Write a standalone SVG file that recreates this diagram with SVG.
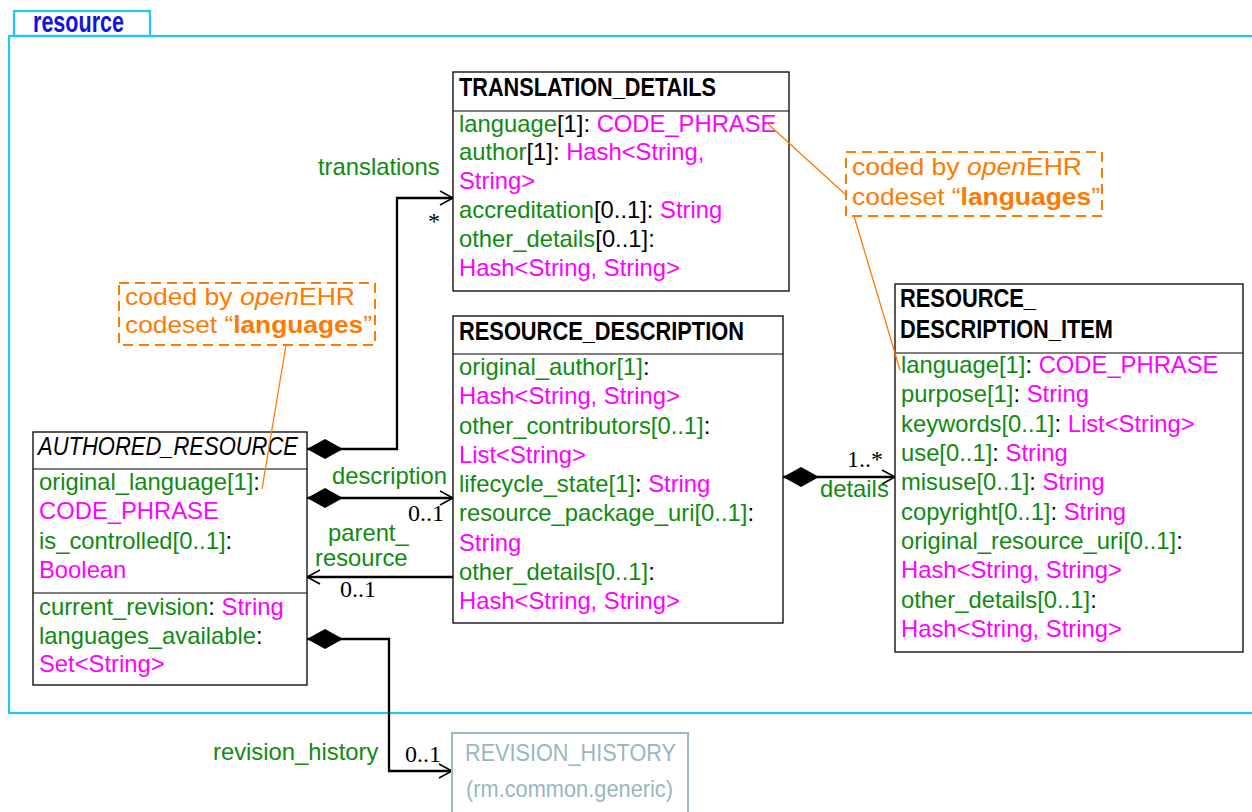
<svg xmlns="http://www.w3.org/2000/svg" width="1252" height="812" viewBox="0 0 1252 812">
<style>
text{font-family:"Liberation Sans",Arial,sans-serif;font-size:23.8px;fill:#000}
.g{fill:#108a10}
.m{fill:#ff00ff}
.t{font-size:25.5px;font-weight:bold}
.it{font-size:26px;font-style:italic}
.mul{font-family:"Liberation Serif","Times New Roman",serif;font-size:24px}
.box{fill:#fff;stroke:#000;stroke-width:1.3}
.div{stroke:#000;stroke-width:1.2}
.note{fill:none;stroke:#ff7a00;stroke-width:2;stroke-dasharray:10 6}
.nt{fill:#ff7a00}
.ol{stroke:#ff7a00;stroke-width:1.3;fill:none}
.con{fill:none;stroke:#000;stroke-width:2.3}
.pkg{fill:none;stroke:#1ec8f2;stroke-width:2.2}
.gray{fill:#99b6bf}
</style>
<defs>
<marker id="dia" markerUnits="userSpaceOnUse" viewBox="0 -11 37 22" markerWidth="37" markerHeight="22" refX="0" refY="0" orient="auto">
<path d="M0,0 L18,-10 L36,0 L18,10 Z" fill="#000"/>
</marker>
<marker id="arr" markerUnits="userSpaceOnUse" viewBox="-15 -9 17 18" markerWidth="17" markerHeight="18" refX="0" refY="0" orient="auto">
<path d="M-13,-7 L0,0 L-13,7" fill="none" stroke="#000" stroke-width="1.5"/>
</marker>
</defs>

<g id="package">
<rect class="pkg" x="14" y="11" width="136" height="25"/>
<rect class="pkg" x="9" y="36" width="1260" height="677"/>
<text x="33" y="32" style="font-weight:bold;font-size:30px;fill:#1212e6" textLength="91" lengthAdjust="spacingAndGlyphs">resource</text>
</g>

<g id="connectors">
<path class="con" d="M307,449 H397 V198 H453" marker-start="url(#dia)" marker-end="url(#arr)"/>
<path class="con" d="M307,498 H453" marker-start="url(#dia)" marker-end="url(#arr)"/>
<path class="con" d="M453,577 H307" marker-end="url(#arr)"/>
<path class="con" d="M783,477 H895" marker-start="url(#dia)" marker-end="url(#arr)"/>
<path class="con" d="M307,639 H389 V771 H452" marker-start="url(#dia)" marker-end="url(#arr)"/>
<text class="g" x="318" y="175">translations</text>
<text class="mul" x="440" y="229" text-anchor="end">*</text>
<text class="g" x="332" y="484">description</text>
<text class="mul" x="408" y="521">0..1</text>
<text class="g" x="328" y="541">parent_</text>
<text class="g" x="315" y="566">resource</text>
<text class="mul" x="340" y="597">0..1</text>
<text class="mul" x="847" y="467">1..*</text>
<text class="g" x="820" y="497">details</text>
<text class="g" x="213" y="760">revision_history</text>
<text class="mul" x="405" y="762">0..1</text>
</g>

<g id="TRANSLATION_DETAILS">
<rect class="box" x="453" y="72" width="336" height="219"/>
<line class="div" x1="453" y1="111" x2="789" y2="111"/>
<text class="t" x="459" y="96" textLength="257" lengthAdjust="spacingAndGlyphs">TRANSLATION_DETAILS</text>
<text x="459" y="131.5"><tspan class="g">language</tspan>[1]: <tspan class="m">CODE_PHRASE</tspan></text>
<text x="459" y="160.4"><tspan class="g">author</tspan>[1]: <tspan class="m">Hash&lt;String,</tspan></text>
<text x="459" y="189.3" class="m">String&gt;</text>
<text x="459" y="218.2"><tspan class="g">accreditation</tspan>[0..1]: <tspan class="m">String</tspan></text>
<text x="459" y="247.1"><tspan class="g">other_details</tspan>[0..1]:</text>
<text x="459" y="276" class="m">Hash&lt;String, String&gt;</text>
</g>

<g id="RESOURCE_DESCRIPTION">
<rect class="box" x="453" y="316" width="330" height="307"/>
<line class="div" x1="453" y1="354" x2="783" y2="354"/>
<text class="t" x="459" y="340" textLength="285" lengthAdjust="spacingAndGlyphs">RESOURCE_DESCRIPTION</text>
<text x="459" y="375"><tspan class="g">original_author[1]</tspan>:</text>
<text x="459" y="404.3" class="m">Hash&lt;String, String&gt;</text>
<text x="459" y="433.5"><tspan class="g">other_contributors[0..1]</tspan>:</text>
<text x="459" y="462.8" class="m">List&lt;String&gt;</text>
<text x="459" y="492"><tspan class="g">lifecycle_state[1]</tspan>: <tspan class="m">String</tspan></text>
<text x="459" y="521.3"><tspan class="g">resource_package_uri[0..1]</tspan>:</text>
<text x="459" y="550.5" class="m">String</text>
<text x="459" y="579.8"><tspan class="g">other_details[0..1]</tspan>:</text>
<text x="459" y="609" class="m">Hash&lt;String, String&gt;</text>
</g>

<g id="AUTHORED_RESOURCE">
<rect class="box" x="33" y="432" width="274" height="253"/>
<line class="div" x1="33" y1="469" x2="307" y2="469"/>
<line class="div" x1="33" y1="593" x2="307" y2="593"/>
<text class="it" x="38" y="455" textLength="260" lengthAdjust="spacingAndGlyphs">AUTHORED_RESOURCE</text>
<text x="39" y="489.5"><tspan class="g">original_language[1]</tspan>:</text>
<text x="39" y="519" class="m">CODE_PHRASE</text>
<text x="39" y="548.5"><tspan class="g">is_controlled[0..1]</tspan>:</text>
<text x="39" y="578" class="m">Boolean</text>
<text x="39" y="614.5"><tspan class="g">current_revision</tspan>: <tspan class="m">String</tspan></text>
<text x="39" y="643.5"><tspan class="g">languages_available</tspan>:</text>
<text x="39" y="672" class="m">Set&lt;String&gt;</text>
</g>

<g id="RESOURCE_DESCRIPTION_ITEM">
<rect class="box" x="895" y="284" width="348" height="368"/>
<line class="div" x1="895" y1="353" x2="1243" y2="353"/>
<text class="t" x="900" y="307" textLength="136" lengthAdjust="spacingAndGlyphs">RESOURCE_</text>
<text class="t" x="900" y="338" textLength="213" lengthAdjust="spacingAndGlyphs">DESCRIPTION_ITEM</text>
<text x="901" y="373"><tspan class="g">language[1]</tspan>: <tspan class="m">CODE_PHRASE</tspan></text>
<text x="901" y="402.3"><tspan class="g">purpose[1]</tspan>: <tspan class="m">String</tspan></text>
<text x="901" y="431.7"><tspan class="g">keywords[0..1]</tspan>: <tspan class="m">List&lt;String&gt;</tspan></text>
<text x="901" y="461"><tspan class="g">use[0..1]</tspan>: <tspan class="m">String</tspan></text>
<text x="901" y="490.3"><tspan class="g">misuse[0..1]</tspan>: <tspan class="m">String</tspan></text>
<text x="901" y="519.7"><tspan class="g">copyright[0..1]</tspan>: <tspan class="m">String</tspan></text>
<text x="901" y="549"><tspan class="g">original_resource_uri[0..1]</tspan>:</text>
<text x="901" y="578.3" class="m">Hash&lt;String, String&gt;</text>
<text x="901" y="607.7"><tspan class="g">other_details[0..1]</tspan>:</text>
<text x="901" y="637" class="m">Hash&lt;String, String&gt;</text>
</g>

<g id="REVISION_HISTORY">
<rect x="452" y="733" width="236" height="90" fill="#fff" stroke="#9bb9c1" stroke-width="2"/>
<text class="gray" x="465" y="761" textLength="211" lengthAdjust="spacingAndGlyphs">REVISION_HISTORY</text>
<text class="gray" x="466" y="797" textLength="207" lengthAdjust="spacingAndGlyphs">(rm.common.generic)</text>
</g>

<g id="note_left">
<rect class="note" x="119" y="283" width="256" height="62"/>
<text class="nt" x="125" y="305" textLength="230" lengthAdjust="spacingAndGlyphs">coded by <tspan font-style="italic">open</tspan>EHR</text>
<text class="nt" x="125" y="333" textLength="247" lengthAdjust="spacingAndGlyphs">codeset “<tspan font-weight="bold">languages</tspan>”</text>
</g>

<g id="note_right">
<rect class="note" x="846" y="152" width="256" height="64"/>
<text class="nt" x="852" y="175" textLength="230" lengthAdjust="spacingAndGlyphs">coded by <tspan font-style="italic">open</tspan>EHR</text>
<text class="nt" x="852" y="205" textLength="248" lengthAdjust="spacingAndGlyphs">codeset “<tspan font-weight="bold">languages</tspan>”</text>
</g>

<g id="note_links">
<path class="ol" d="M286,345 L262,489"/>
<path class="ol" d="M767,123 L846,195"/>
<path class="ol" d="M854,216 L900,370"/>
</g>
</svg>
